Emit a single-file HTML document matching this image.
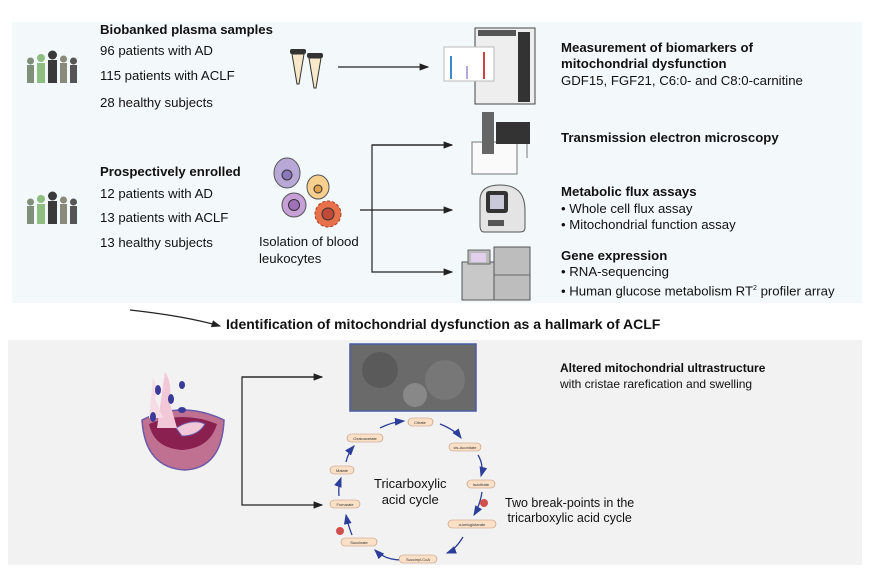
<!DOCTYPE html>
<html><head><meta charset="utf-8"><style>
body{margin:0;width:869px;height:575px;background:#fff;position:relative;overflow:hidden;font-family:"Liberation Sans",Arial,sans-serif;color:#111}
.t{position:absolute;font-size:13.2px;white-space:nowrap;line-height:15px}
.b{font-weight:bold}
</style></head><body>
<div style="position:absolute;left:12px;top:22px;width:850px;height:281px;background:#f3f9fa"></div>
<div style="position:absolute;left:8px;top:340px;width:854px;height:225px;background:#f2f2f2"></div>
<svg width="869" height="575" style="position:absolute;left:0;top:0">
<defs>
<marker id="a" markerWidth="8" markerHeight="8" refX="7" refY="4" orient="auto"><path d="M0,1 L8,4 L0,7z" fill="#222"/></marker>
<marker id="bl" markerWidth="8" markerHeight="8" refX="7" refY="4" orient="auto"><path d="M0,1 L8,4 L0,7z" fill="#2b3f9a"/></marker>
</defs>
<g id="ppl">
<rect x="27" y="65" width="7" height="18" fill="#7f8f7a"/><circle cx="30.5" cy="61" r="3.5" fill="#7f8f7a"/>
<rect x="37" y="63" width="8" height="20" fill="#8fbf80"/><circle cx="41" cy="58" r="4" fill="#8fbf80"/>
<rect x="48" y="60" width="9" height="23" fill="#3a3a3a"/><circle cx="52.5" cy="55" r="4.5" fill="#3a3a3a"/>
<rect x="60" y="63" width="7" height="20" fill="#8a8a7a"/><circle cx="63.5" cy="59" r="3.5" fill="#8a8a7a"/>
<rect x="70" y="65" width="7" height="18" fill="#555"/><circle cx="73.5" cy="61" r="3.5" fill="#555"/>
</g>
<use href="#ppl" y="141"/>
<path d="M292,54 h12 l-5,30 h-2z" fill="#f6e8c8" stroke="#333"/><rect x="290" y="49" width="16" height="5" rx="2" fill="#333"/>
<path d="M309,58 h12 l-5,30 h-2z" fill="#f6e8c8" stroke="#333"/><rect x="307" y="53" width="16" height="5" rx="2" fill="#333"/>
<line x1="338" y1="67" x2="428" y2="67" stroke="#222" stroke-width="1.2" marker-end="url(#a)"/>
<rect x="475" y="28" width="60" height="76" fill="#eee" stroke="#444"/>
<rect x="518" y="32" width="12" height="70" fill="#333"/>
<rect x="478" y="30" width="38" height="6" fill="#555"/>
<rect x="444" y="47" width="50" height="34" fill="#fff" stroke="#bbb"/>
<line x1="451" y1="56" x2="451" y2="79" stroke="#3a8ad0" stroke-width="2"/><line x1="467" y1="66" x2="467" y2="79" stroke="#9a8ad0" stroke-width="1.5"/><line x1="484" y1="52" x2="484" y2="79" stroke="#d04040" stroke-width="2"/>
<rect x="472" y="142" width="45" height="32" fill="#fafafa" stroke="#777"/>
<rect x="482" y="112" width="12" height="42" fill="#666"/><rect x="496" y="122" width="34" height="22" fill="#333"/>
<line x1="527" y1="144" x2="527" y2="158" stroke="#777"/>
<path d="M480,225 V200 Q480,185 500,185 Q525,185 525,210 V228 Q525,232 520,232 H484 Q480,232 480,225z" fill="#e4e4e4" stroke="#555"/>
<rect x="486" y="191" width="22" height="22" rx="3" fill="#333"/><rect x="490" y="195" width="14" height="14" fill="#c8c8d8"/>
<rect x="488" y="220" width="16" height="6" fill="#555"/>
<rect x="462" y="262" width="35" height="38" fill="#c8c8c8" stroke="#555"/>
<rect x="468" y="250" width="22" height="14" fill="#bbb" stroke="#666"/><rect x="471" y="253" width="15" height="9" fill="#e0d0ee"/>
<rect x="494" y="247" width="36" height="53" fill="#bdbdbd" stroke="#555"/><line x1="494" y1="275" x2="530" y2="275" stroke="#666"/>
<ellipse cx="287" cy="173" rx="13" ry="15" fill="#b8a8d8" stroke="#555"/><circle cx="287" cy="175" r="5" fill="#8a78b8" stroke="#333"/>
<ellipse cx="318" cy="187" rx="11" ry="12" fill="#f7d090" stroke="#555"/><circle cx="318" cy="189" r="4" fill="#e0a050" stroke="#333"/>
<circle cx="294" cy="205" r="12" fill="#c8a0d8" stroke="#555"/><circle cx="294" cy="205" r="5.5" fill="#a070b8" stroke="#333"/>
<circle cx="328" cy="214" r="13" fill="#e8704a" stroke="#a04020" stroke-dasharray="3 2"/><circle cx="328" cy="214" r="6" fill="#c04a3a" stroke="#333"/>
<polyline points="452,145 372,145 372,272 452,272" fill="none" stroke="#222" stroke-width="1.2" marker-end="url(#a)"/>
<line x1="372" y1="145" x2="452" y2="145" stroke="#222" stroke-width="1.2" marker-end="url(#a)"/>
<line x1="360" y1="210" x2="452" y2="210" stroke="#222" stroke-width="1.2" marker-end="url(#a)"/>
<path d="M130,310 Q185,316 220,326" fill="none" stroke="#222" stroke-width="1.2" marker-end="url(#a)"/>
<path d="M142,420 Q182,400 224,420 Q222,468 185,470 Q145,468 142,420z" fill="#c07090" stroke="#6a5aa8" stroke-width="1.5"/>
<path d="M149,424 Q182,410 217,424 Q210,448 182,450 Q154,448 149,424z" fill="#8a2050"/>
<path d="M176,428 Q192,418 205,424 Q198,436 182,436z" fill="#f2c8d8" stroke="#6a5aa8"/>
<path d="M165,372 q8,12 4,28 l8,28 l-20,0z" fill="#f2c8d8"/>
<path d="M153,378 q6,10 2,20 l8,20 l-14,0z" fill="#f7dce6"/>
<ellipse cx="158" cy="390" rx="3" ry="5" fill="#3a3a9a"/><ellipse cx="171" cy="399" rx="3" ry="5" fill="#3a3a9a"/><ellipse cx="182" cy="385" rx="3" ry="4" fill="#3a3a9a"/><ellipse cx="153" cy="417" rx="3" ry="5" fill="#3a3a9a"/><ellipse cx="182" cy="410" rx="4" ry="3" fill="#3a3a9a"/>
<polyline points="322,377 242,377 242,505 322,505" fill="none" stroke="#222" stroke-width="1.2" marker-end="url(#a)"/>
<line x1="242" y1="377" x2="322" y2="377" stroke="#222" stroke-width="1.2" marker-end="url(#a)"/>
<rect x="350" y="344" width="126" height="67" fill="#6a6a6a" stroke="#4a5aa8" stroke-width="1.5"/>
<circle cx="380" cy="370" r="18" fill="#5a5a5a"/><circle cx="445" cy="380" r="20" fill="#777"/><circle cx="415" cy="395" r="12" fill="#888"/>
<g fill="none" stroke="#2b3f9a" stroke-width="1.3" marker-end="url(#bl)">
<path d="M440,424 Q455,430 461,438"/><path d="M478,455 Q484,465 481,476"/><path d="M482,492 Q480,505 474,515"/>
<path d="M463,537 Q455,550 447,553"/><path d="M402,560 Q385,560 375,550"/><path d="M352,535 Q348,525 346,515"/>
<path d="M339,496 Q338,486 341,478"/><path d="M346,462 Q348,453 354,446"/><path d="M380,428 Q392,422 404,421"/>
</g>
<circle cx="484" cy="503" r="4" fill="#d05050"/><circle cx="340" cy="531" r="4" fill="#d05050"/>
<g font-family="Liberation Sans,sans-serif" font-size="4" text-anchor="middle" fill="#333">
<g fill="#fbe0c8" stroke="#c09070" stroke-width=".6">
<rect x="408" y="418" width="25" height="8" rx="4"/><rect x="449" y="443" width="32" height="8" rx="4"/><rect x="467" y="480" width="28" height="8" rx="4"/>
<rect x="448" y="520" width="48" height="8" rx="4"/><rect x="399" y="555" width="38" height="8" rx="4"/><rect x="341" y="538" width="36" height="8" rx="4"/>
<rect x="330" y="500" width="30" height="8" rx="4"/><rect x="330" y="466" width="24" height="8" rx="4"/><rect x="347" y="434" width="36" height="8" rx="4"/>
</g>
<text x="420" y="424">Citrate</text><text x="465" y="449">cis-Aconitate</text><text x="481" y="486">Isocitrate</text><text x="472" y="526">α-ketoglutarate</text><text x="418" y="561">Succinyl-CoA</text><text x="359" y="544">Succinate</text><text x="345" y="506">Fumarate</text><text x="342" y="472">Malate</text><text x="365" y="440">Oxaloacetate</text>
</g>
</svg>
<div class="t b" style="left:100px;top:22px">Biobanked plasma samples</div>
<div class="t" style="left:100px;top:43px">96 patients with AD</div>
<div class="t" style="left:100px;top:68px">115 patients with ACLF</div>
<div class="t" style="left:100px;top:95px">28 healthy subjects</div>
<div class="t b" style="left:561px;top:40px">Measurement of biomarkers of</div>
<div class="t b" style="left:561px;top:56px">mitochondrial dysfunction</div>
<div class="t" style="left:561px;top:73px">GDF15, FGF21, C6:0- and C8:0-carnitine</div>
<div class="t b" style="left:561px;top:130px">Transmission electron microscopy</div>
<div class="t b" style="left:100px;top:164px">Prospectively enrolled</div>
<div class="t" style="left:100px;top:186px">12 patients with AD</div>
<div class="t" style="left:100px;top:210px">13 patients with ACLF</div>
<div class="t" style="left:100px;top:235px">13 healthy subjects</div>
<div class="t" style="left:259px;top:234px">Isolation of blood</div>
<div class="t" style="left:259px;top:251px">leukocytes</div>
<div class="t b" style="left:561px;top:184px">Metabolic flux assays</div>
<div class="t" style="left:561px;top:201px">• Whole cell flux assay</div>
<div class="t" style="left:561px;top:217px">• Mitochondrial function assay</div>
<div class="t b" style="left:561px;top:248px">Gene expression</div>
<div class="t" style="left:561px;top:264px">• RNA-sequencing</div>
<div class="t" style="left:561px;top:281px">• Human glucose metabolism RT<sup style="font-size:7px">2</sup> profiler array</div>
<div class="t b" style="left:226px;top:317px;font-size:14px">Identification of mitochondrial dysfunction as a hallmark of ACLF</div>
<div class="t b" style="left:560px;top:361px;font-size:12px">Altered mitochondrial ultrastructure</div>
<div class="t" style="left:560px;top:377px;font-size:12px">with cristae rarefication and swelling</div>
<div class="t" style="left:374px;top:476px;font-size:13px;line-height:16px;text-align:center">Tricarboxylic<br>acid cycle</div>
<div class="t" style="left:505px;top:496px;text-align:center;font-size:12.5px">Two break-points in the<br>tricarboxylic acid cycle</div>
</body></html>
